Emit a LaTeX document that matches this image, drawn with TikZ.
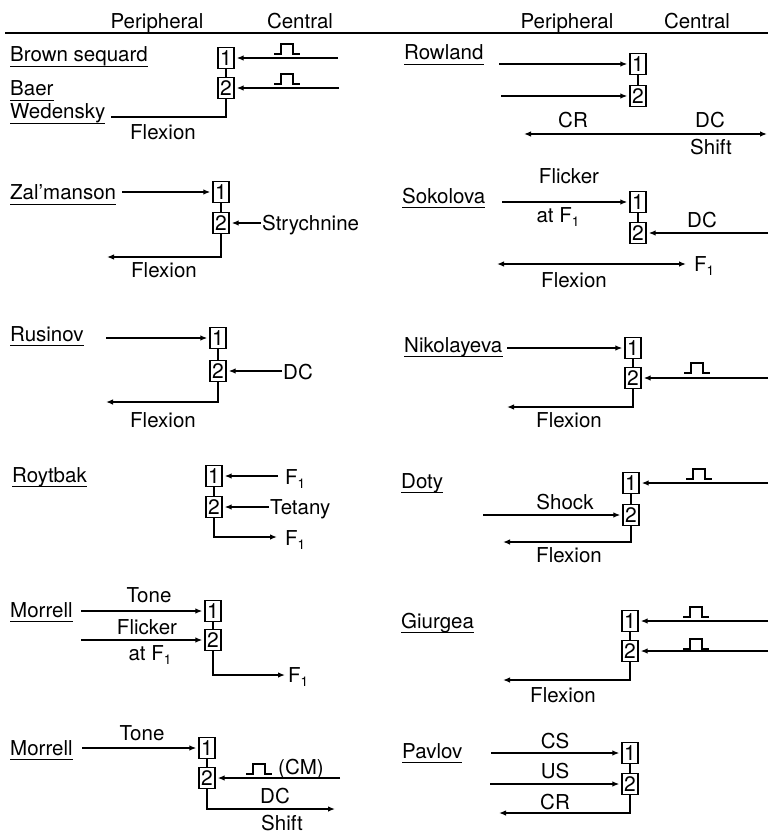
\documentclass[tikz,border=0pt]{standalone}
\usepackage{fontspec}
\setmainfont{TeX Gyre Heros}
\usetikzlibrary{arrows.meta}
\newcommand{\lowidx}[1]{\raisebox{-4pt}{\fontsize{13.5}{13.5}\selectfont #1}}
\newcommand{\nameat}[3]{\node[nm] (#1) at (#2) {#3};
  \draw[line width=1.1pt] ([yshift=-4.5pt]#1.base west) -- ([yshift=-4.5pt]#1.base east);}
\tikzset{
  lbl/.style={inner sep=0pt, font=\fontsize{20.5}{24}\selectfont},
  nm/.style={lbl, anchor=base west},
  lb/.style={lbl, anchor=base},
  lbw/.style={lbl, anchor=base west},
  bx/.style={draw, line width=1.4pt, minimum width=16pt, minimum height=21pt, inner sep=0pt, font=\fontsize{21}{21}\selectfont},
  ln/.style={line width=1.3pt},
  ar/.style={line width=1.3pt, -{Latex[length=7pt,width=5.5pt]}, shorten >=2pt},
  aro/.style={line width=1.3pt, -{Latex[length=7pt,width=5.5pt]}},
  dar/.style={line width=1.3pt, {Latex[length=7pt,width=5.5pt]}-{Latex[length=7pt,width=5.5pt]}},
  pulse/.pic={\draw[line width=1.4pt] (-13,0) -- (-6,0) -- (-6,-10) -- (6,-10) -- (6,0) -- (13,0);}
}
\begin{document}
\begin{tikzpicture}[x=1pt,y=-1pt]
\useasboundingbox (0,0) rectangle (768,837);

% headers
\node[lb] (h1) at (157,29) {Peripheral};
\node[lb] (h2) at (300,29) {Central};
\node[lb] (h3) at (567,29) {Peripheral};
\node[lb] (h4) at (697,29) {Central};
\draw[line width=1.6pt] (5,33) -- (768,33);

% ---- Brown sequard / Baer / Wedensky
\nameat{nA1}{10,62}{Brown sequard}
\nameat{nA2}{10,96}{Baer}
\nameat{nA3}{10,119}{Wedensky}
\node[bx] (A1) at (226,58) {1};
\node[bx] (A2) at (226,88) {2};
\draw[ln] (A1) -- (A2);
\coordinate (Ai1) at (338,58); \draw[ar] (Ai1) -- (A1);
\pic at (287,54) {pulse};
\coordinate (Ai2) at (339,88); \draw[ar] (Ai2) -- (A2);
\pic at (287,84) {pulse};
\coordinate (Ao) at (111,117); \draw[ln] (A2.south) |- (Ao);
\node[lb] (Af) at (163,140) {Flexion};

% ---- Rowland
\nameat{nG}{404,60}{Rowland}
\node[bx] (G1) at (638,64) {1};
\node[bx] (G2) at (638,96) {2};
\draw[ln] (G1) -- (G2);
\coordinate (Gi1) at (499,64); \draw[ar] (Gi1) -- (G1);
\coordinate (Gi2) at (501,96); \draw[ar] (Gi2) -- (G2);
\coordinate (Gl) at (524,134); \coordinate (Gr) at (767,134); \draw[dar] (Gl) -- (Gr);
\node[lb] (Gcr) at (573,128) {CR};
\node[lb] (Gdc) at (710,128) {DC};
\node[lb] (Gsh) at (711,155) {Shift};

% ---- Zal'manson
\nameat{nB}{10,200}{Zal'manson}
\node[bx] (B1) at (221,192) {1};
\node[bx] (B2) at (221,223) {2};
\draw[ln] (B1) -- (B2);
\coordinate (Bi) at (122,192); \draw[ar] (Bi) -- (B1);
\node[lbw] (Bs) at (262,230) {Strychnine};
\coordinate (Bsi) at (261,223); \draw[ar] (Bsi) -- (B2);
\coordinate (Bo) at (107,257); \draw[aro] (B2.south) |- (Bo);
\node[lb] (Bf) at (164,277) {Flexion};

% ---- Sokolova
\nameat{nH}{402,203}{Sokolova}
\node[bx] (H1) at (638,202) {1};
\node[bx] (H2) at (638,233) {2};
\draw[ln] (H1) -- (H2);
\coordinate (Hi) at (502,202); \draw[ar] (Hi) -- (H1);
\node[lb] (Hfl) at (569,183) {Flicker};
\node[lb] (Hat) at (558,222) {at F\lowidx{1}};
\coordinate (Hd) at (768,233); \draw[ar] (Hd) -- (H2);
\node[lb] (Hdc) at (702,227) {DC};
\coordinate (Hl) at (497,264); \coordinate (Hr) at (686,264); \draw[dar] (Hl) -- (Hr);
\node[lbw] (Hf1) at (694,271) {F\lowidx{1}};
\node[lb] (Hfx) at (574,287) {Flexion};

% ---- Rusinov
\nameat{nC}{10,341}{Rusinov}
\node[bx] (C1) at (218,338) {1};
\node[bx] (C2) at (218,371) {2};
\draw[ln] (C1) -- (C2);
\coordinate (Ci) at (106,338); \draw[ar] (Ci) -- (C1);
\node[lbw] (Cdc) at (283,379) {DC};
\coordinate (Cd) at (282,371); \draw[ar] (Cd) -- (C2);
\coordinate (Co) at (106,402); \draw[aro] (C2.south) |- (Co);
\node[lb] (Cf) at (163,427) {Flexion};

% ---- Nikolayeva
\nameat{nI}{404,352}{Nikolayeva}
\node[bx] (I1) at (633,348) {1};
\node[bx] (I2) at (633,378) {2};
\draw[ln] (I1) -- (I2);
\coordinate (Ii) at (507,348); \draw[ar] (Ii) -- (I1);
\coordinate (Id) at (768,378); \draw[ar] (Id) -- (I2);
\pic at (697,373) {pulse};
\coordinate (Io) at (507,407); \draw[aro] (I2.south) |- (Io);
\node[lb] (If) at (569,427) {Flexion};

% ---- Roytbak
\nameat{nD}{12,482}{Roytbak}
\node[bx] (D1) at (214,476) {1};
\node[bx] (D2) at (214,507) {2};
\draw[ln] (D1) -- (D2);
\coordinate (Df) at (278,476); \draw[ar] (Df) -- (D1);
\node[lbw] (Df1) at (285,484) {F\lowidx{1}};
\coordinate (Dt) at (269,507); \draw[ar] (Dt) -- (D2);
\node[lbw] (Dte) at (270,514) {Tetany};
\coordinate (Do) at (277,537); \draw[aro] (D2.south) |- (Do);
\node[lbw] (Df2) at (285,545) {F\lowidx{1}};

% ---- Doty
\nameat{nJ}{401,488}{Doty}
\node[bx] (J1) at (631,483) {1};
\node[bx] (J2) at (631,515) {2};
\draw[ln] (J1) -- (J2);
\coordinate (Jp) at (768,483); \draw[ar] (Jp) -- (J1);
\pic at (699,479) {pulse};
\coordinate (Js) at (483,515); \draw[ar] (Js) -- (J2);
\node[lb] (Jsh) at (565,509) {Shock};
\coordinate (Jo) at (503,542); \draw[aro] (J2.south) |- (Jo);
\node[lb] (Jf) at (569,562) {Flexion};

% ---- Morrell (1)
\nameat{nE}{10,617}{Morrell}
\node[bx] (E1) at (213,611) {1};
\node[bx] (E2) at (213,640) {2};
\draw[ln] (E1) -- (E2);
\coordinate (Et) at (81,611); \draw[ar] (Et) -- (E1);
\node[lb] (Eto) at (149,602) {Tone};
\coordinate (Ef) at (81,640); \draw[ar] (Ef) -- (E2);
\node[lb] (Efl) at (147,634) {Flicker};
\node[lb] (Eat) at (150,660) {at F\lowidx{1}};
\coordinate (Eo) at (285,675); \draw[aro] (E2.south) |- (Eo);
\node[lbw] (Ef1) at (288,682) {F\lowidx{1}};

% ---- Giurgea
\nameat{nK}{401,628}{Giurgea}
\node[bx] (K1) at (630,621) {1};
\node[bx] (K2) at (630,651) {2};
\draw[ln] (K1) -- (K2);
\coordinate (Kp1) at (768,621); \draw[ar] (Kp1) -- (K1);
\pic at (696,617) {pulse};
\coordinate (Kp2) at (768,651); \draw[ar] (Kp2) -- (K2);
\pic at (696,649) {pulse};
\coordinate (Ko) at (503,680); \draw[aro] (K2.south) |- (Ko);
\node[lb] (Kf) at (563,702) {Flexion};

% ---- Morrell (2)
\nameat{nF}{10,755}{Morrell}
\node[bx] (F1) at (207,748) {1};
\node[bx] (F2) at (207,778) {2};
\draw[ln] (F1) -- (F2);
\coordinate (Ft) at (82,748); \draw[ar] (Ft) -- (F1);
\node[lb] (Fto) at (142,740) {Tone};
\coordinate (Fp) at (340,778); \draw[ar] (Fp) -- (F2);
\pic at (259,774) {pulse};
\node[lbw] (Fcm) at (278,774) {(CM)};
\coordinate (Fo) at (335,809); \draw[aro] (F2.south) |- (Fo);
\node[lb] (Fdc) at (275,803) {DC};
\node[lb] (Fsh) at (282,830) {Shift};

% ---- Pavlov
\nameat{nL}{402,758}{Pavlov}
\node[bx] (L1) at (630,753) {1};
\node[bx] (L2) at (630,784) {2};
\draw[ln] (L1) -- (L2);
\coordinate (Lc) at (491,753); \draw[ar] (Lc) -- (L1);
\node[lb] (Lcs) at (555,748) {CS};
\coordinate (Lu) at (490,784); \draw[ar] (Lu) -- (L2);
\node[lb] (Lus) at (555,778) {US};
\coordinate (Lo) at (499,813); \draw[aro] (L2.south) |- (Lo);
\node[lb] (Lcr) at (555,809) {CR};
\end{tikzpicture}
\end{document}
